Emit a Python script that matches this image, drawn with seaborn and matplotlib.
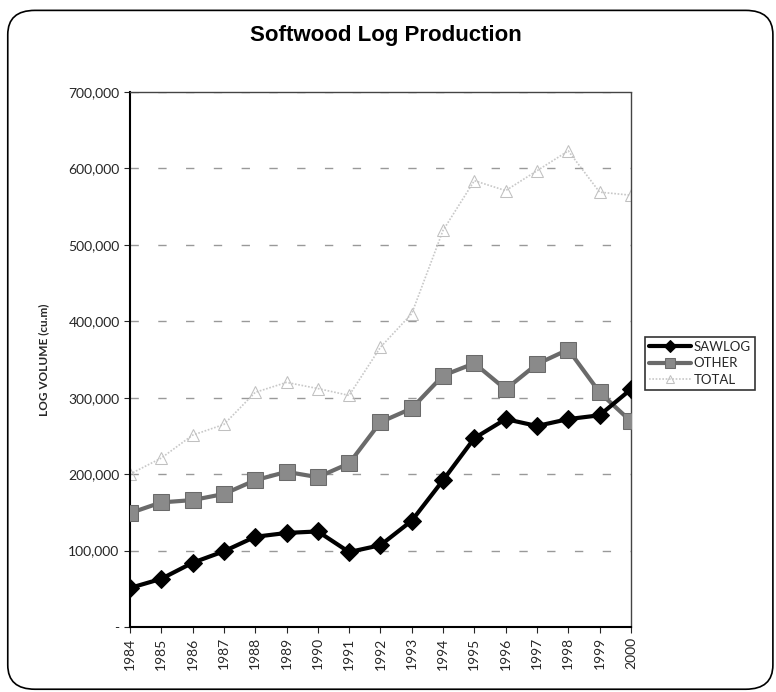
import matplotlib
matplotlib.use("Agg")
import matplotlib.pyplot as plt
import seaborn as sns
import pandas as pd
from matplotlib.patches import FancyBboxPatch
from matplotlib.ticker import FuncFormatter, MultipleLocator

years = list(range(1984, 2001))
sawlog = [51000, 63000, 84000, 99000, 118000, 123000, 125000, 98000, 107000,
          139000, 192000, 247000, 272000, 263000, 272000, 277000, 311000]
other = [149000, 163000, 166000, 174000, 192000, 203000, 196000, 214000, 268000,
         286000, 329000, 345000, 311000, 344000, 363000, 307000, 269000]
total = [200000, 221000, 251000, 265000, 307000, 320000, 312000, 303000, 366000,
         410000, 519000, 584000, 571000, 597000, 623000, 569000, 565000]

df = pd.DataFrame({"year": years, "SAWLOG": sawlog, "OTHER": other, "TOTAL": total})

sns.set_style("white")
plt.rcParams["font.family"] = ["Lato", "DejaVu Sans"]

fig = plt.figure(figsize=(7.76, 6.92), dpi=100)
ax = fig.add_axes([0.1675, 0.094, 0.6455, 0.773])

sns.lineplot(data=df, x="year", y="TOTAL", ax=ax, color="#c8c8c8", lw=1.2,
             linestyle=(0, (1, 1)), marker="^", markersize=8,
             markerfacecolor="none", markeredgecolor="#c0c0c0", label="TOTAL", zorder=2)
sns.lineplot(data=df, x="year", y="OTHER", ax=ax, color="#6a6a6a", lw=3,
             marker="s", markersize=11, markerfacecolor="#8a8a8a",
             markeredgecolor="#6a6a6a", label="OTHER", zorder=3)
sns.lineplot(data=df, x="year", y="SAWLOG", ax=ax, color="black", lw=3,
             marker="D", markersize=9, markerfacecolor="black",
             markeredgecolor="black", label="SAWLOG", zorder=4)

ax.set_xlim(1984, 2000)
ax.set_ylim(0, 700000)
ax.set_xticks(years)
ax.set_xticklabels([str(y) for y in years], rotation=90, fontsize=10)
ax.yaxis.set_major_locator(MultipleLocator(100000))
ax.yaxis.set_major_formatter(FuncFormatter(lambda v, p: "-" if v == 0 else f"{int(v):,}"))
ax.tick_params(axis="y", labelsize=10, length=4, direction="out", left=True)
ax.tick_params(axis="x", length=4, direction="out", bottom=True)

ax.grid(axis="y", color="#999999", linestyle=(0, (6, 14)), lw=1)
ax.set_axisbelow(True)

for side in ("top", "right"):
    ax.spines[side].set_linestyle((0, (1, 1)))
    ax.spines[side].set_color("#444444")
    ax.spines[side].set_linewidth(1)
for side in ("left", "bottom"):
    ax.spines[side].set_color("black")
    ax.spines[side].set_linewidth(1.5)

ax.set_xlabel("")
ax.set_ylabel("LOG VOLUME (cu.m)", fontsize=8.5, fontweight="bold", labelpad=14)

handles, labels = ax.get_legend_handles_labels()
order = [labels.index(n) for n in ("SAWLOG", "OTHER", "TOTAL")]
leg = ax.legend([handles[i] for i in order], [labels[i] for i in order],
                loc="upper left", bbox_to_anchor=(1.015, 0.555), frameon=True,
                fancybox=False, edgecolor="black", fontsize=9.5,
                handlelength=3.2, handletextpad=0.2, borderpad=0.3,
                labelspacing=0.35, markerscale=0.7)
leg.get_frame().set_linewidth(1.2)

fig.text(0.497, 0.948, "Softwood Log Production", ha="center", va="center",
         fontsize=16, fontweight="bold", color="black",
         family=["Liberation Sans", "DejaVu Sans"])

frame = FancyBboxPatch((0.010, 0.004), 0.986, 0.981, transform=fig.transFigure,
                       boxstyle="round,pad=0,rounding_size=0.035",
                       fill=False, edgecolor="black", lw=1.2, clip_on=False)
fig.patches.append(frame)

fig.savefig("out.png", dpi=100)
